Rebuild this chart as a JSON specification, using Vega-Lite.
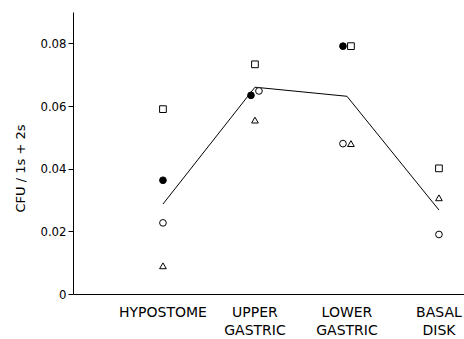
{
  "$schema": "https://vega.github.io/schema/vega-lite/v6.json",
  "width": 391,
  "height": 282,
  "autosize": "none",
  "padding": {"left": 73, "top": 12, "right": 0, "bottom": 45},
  "background": "white",
  "config": {"view": {"stroke": null}, "font": "DejaVu Sans"},
  "datasets": {
    "points": [
      {"region": "HYPOSTOME", "series": "C", "side": "center", "value": 0.059},
      {"region": "HYPOSTOME", "series": "A", "side": "center", "value": 0.0363},
      {"region": "HYPOSTOME", "series": "B", "side": "center", "value": 0.0227},
      {"region": "HYPOSTOME", "series": "D", "side": "center", "value": 0.009},
      {"region": "UPPER GASTRIC", "series": "C", "side": "center", "value": 0.0733},
      {"region": "UPPER GASTRIC", "series": "A", "side": "left", "value": 0.0634},
      {"region": "UPPER GASTRIC", "series": "B", "side": "right", "value": 0.0648},
      {"region": "UPPER GASTRIC", "series": "D", "side": "center", "value": 0.0555},
      {"region": "LOWER GASTRIC", "series": "A", "side": "left", "value": 0.0791},
      {"region": "LOWER GASTRIC", "series": "C", "side": "right", "value": 0.0791},
      {"region": "LOWER GASTRIC", "series": "B", "side": "left", "value": 0.048},
      {"region": "LOWER GASTRIC", "series": "D", "side": "right", "value": 0.048},
      {"region": "BASAL DISK", "series": "C", "side": "center", "value": 0.0401},
      {"region": "BASAL DISK", "series": "D", "side": "center", "value": 0.0307},
      {"region": "BASAL DISK", "series": "B", "side": "center", "value": 0.019}
    ],
    "mean": [
      {"region": "HYPOSTOME", "value": 0.0287},
      {"region": "UPPER GASTRIC", "value": 0.066},
      {"region": "LOWER GASTRIC", "value": 0.0631},
      {"region": "BASAL DISK", "value": 0.0268}
    ]
  },
  "encoding": {
    "x": {
      "field": "region",
      "type": "nominal",
      "sort": ["HYPOSTOME", "UPPER GASTRIC", "LOWER GASTRIC", "BASAL DISK"],
      "scale": {
        "domain": ["HYPOSTOME", "UPPER GASTRIC", "LOWER GASTRIC", "BASAL DISK"],
        "paddingInner": 0.87,
        "paddingOuter": 0.56,
        "align": 0.815
      },
      "axis": {
        "title": null,
        "ticks": false,
        "labelAngle": 0,
        "labelFont": "DejaVu Sans",
        "labelFontSize": 14,
        "labelColor": "black",
        "labelLineHeight": 18,
        "labelPadding": 11,
        "labelOverlap": false,
        "labelBound": false,
        "labelExpr": "split(datum.label, ' ')",
        "domainColor": "black",
        "domainWidth": 1.2
      }
    },
    "y": {
      "field": "value",
      "type": "quantitative",
      "scale": {"domain": [0, 0.09], "nice": false, "zero": true},
      "axis": {
        "title": "CFU / 1s + 2s",
        "values": [0, 0.02, 0.04, 0.06, 0.08],
        "labelExpr": "datum.value == 0 ? '0' : format(datum.value, '.2f')",
        "grid": false,
        "tickSize": 5,
        "tickColor": "black",
        "domainColor": "black",
        "labelColor": "black",
        "labelFont": "DejaVu Sans Condensed",
        "labelFontSize": 13,
        "labelPadding": 2,
        "titleFont": "DejaVu Sans",
        "titleFontSize": 13,
        "titleFontWeight": "normal",
        "titleColor": "black",
        "titleAngle": -90,
        "titleAlign": "center",
        "titleBaseline": "middle",
        "titleX": -53,
        "titleY": 156
      }
    }
  },
  "layer": [
    {
      "data": {"name": "mean"},
      "mark": {"type": "line", "color": "black", "strokeWidth": 1}
    },
    {
      "data": {"name": "points"},
      "mark": {"type": "point", "filled": true, "stroke": "black", "strokeWidth": 1, "size": 45, "opacity": 1},
      "encoding": {
        "xOffset": {"field": "side", "type": "nominal", "scale": {"domain": ["left", "center", "right"]}},
        "shape": {
          "field": "series",
          "type": "nominal",
          "scale": {"domain": ["A", "B", "C", "D"], "range": ["circle", "circle", "square", "triangle-up"]},
          "legend": null
        },
        "fill": {
          "field": "series",
          "type": "nominal",
          "scale": {"domain": ["A", "B", "C", "D"], "range": ["black", "white", "white", "white"]},
          "legend": null
        }
      }
    }
  ]
}
